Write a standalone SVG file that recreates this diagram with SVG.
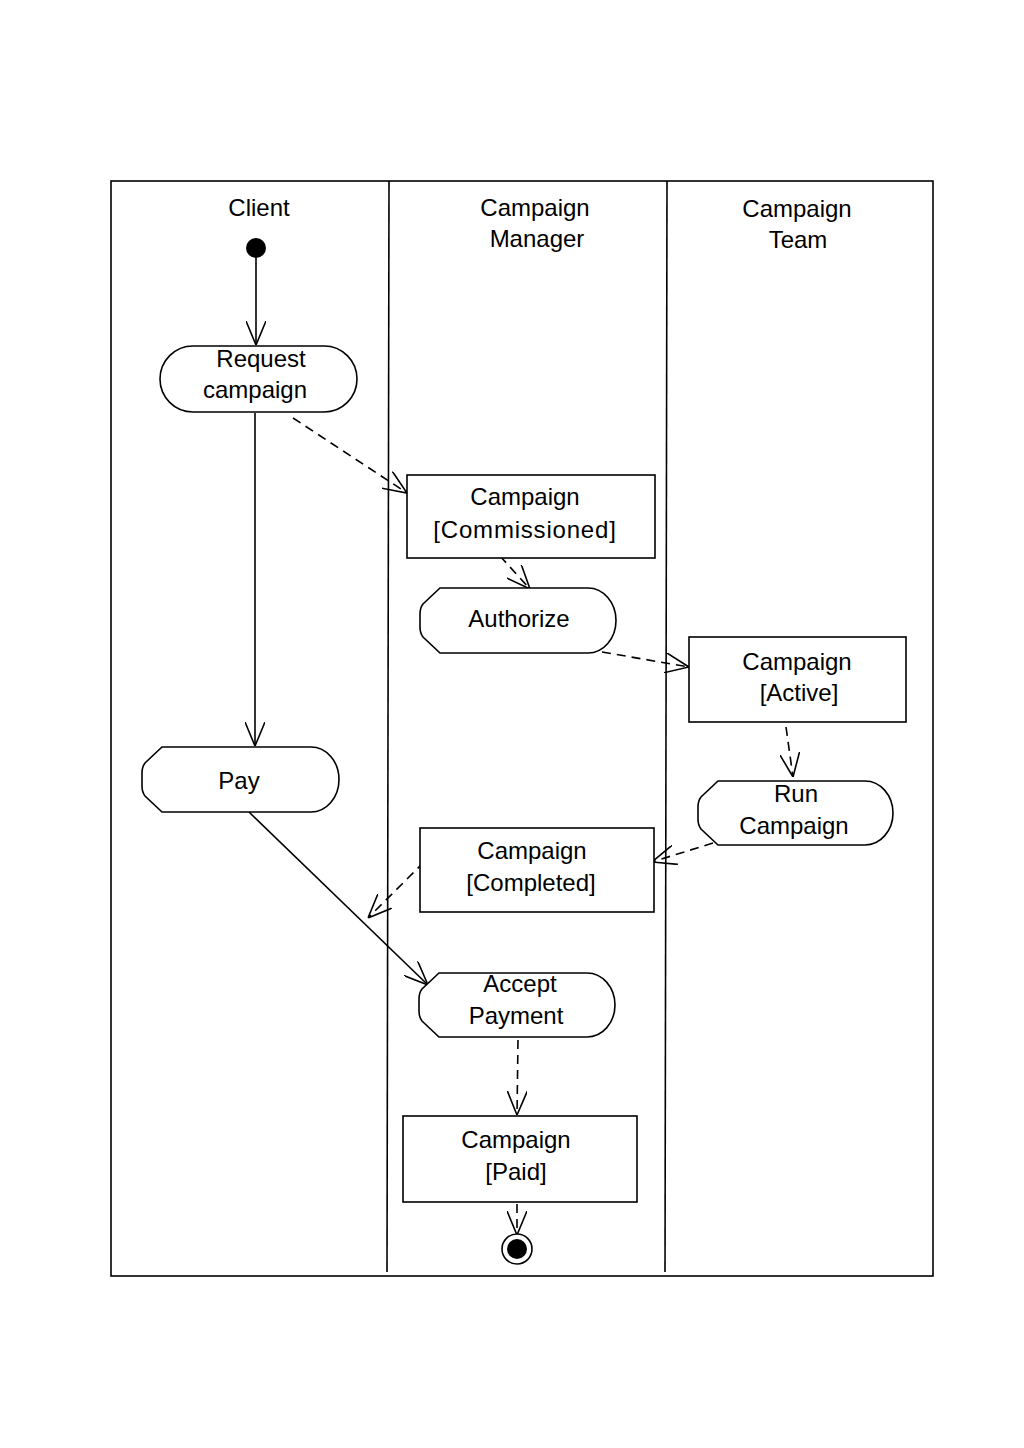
<svg xmlns="http://www.w3.org/2000/svg" width="1024" height="1448" viewBox="0 0 1024 1448">
<style>
.frame{fill:none;stroke:#000;stroke-width:1.6}
.node{fill:#fff;stroke:#000;stroke-width:1.6}
.t{font-family:"Liberation Sans",Arial,sans-serif;font-size:24px;fill:#000;text-anchor:middle}
.solid{fill:none;stroke:#000;stroke-width:1.6}
.dash{fill:none;stroke:#000;stroke-width:1.6;stroke-dasharray:9 6}
</style>
<defs>
<marker id="open" viewBox="0 0 24 20" refX="24" refY="10" markerWidth="24" markerHeight="20" markerUnits="userSpaceOnUse" orient="auto">
<path d="M0,0 L24,10 L0,20" fill="none" stroke="#000" stroke-width="1.6"/>
</marker>
</defs>
<rect width="1024" height="1448" fill="#fff"/>
<g id="lanes">
<rect class="frame" x="111" y="181" width="822" height="1095"/>
<line class="frame" x1="389" y1="181" x2="387" y2="1272"/>
<line class="frame" x1="667" y1="181" x2="665" y2="1272"/>
<text class="t" x="259" y="216">Client</text>
<text class="t" x="535" y="216">Campaign</text>
<text class="t" x="537" y="247">Manager</text>
<text class="t" x="797" y="217">Campaign</text>
<text class="t" x="798" y="248">Team</text>
</g>
<g id="connectors">
<line class="solid" x1="256" y1="256" x2="256" y2="345" marker-end="url(#open)"/>
<line class="solid" x1="255" y1="413" x2="255" y2="746" marker-end="url(#open)"/>
<line class="dash" x1="293" y1="418" x2="407" y2="493" marker-end="url(#open)"/>
<line class="dash" x1="500" y1="556" x2="530" y2="589" marker-end="url(#open)"/>
<line class="dash" x1="602" y1="652" x2="689" y2="667" marker-end="url(#open)"/>
<line class="dash" x1="786" y1="727" x2="793" y2="777" marker-end="url(#open)"/>
<line class="dash" x1="713" y1="843" x2="652" y2="862" marker-end="url(#open)"/>
<line class="dash" x1="424" y1="862" x2="368" y2="918" marker-end="url(#open)"/>
<line class="solid" x1="249" y1="812" x2="428" y2="985" marker-end="url(#open)"/>
<line class="dash" x1="518" y1="1040" x2="517" y2="1115" marker-end="url(#open)"/>
<line class="dash" x1="517" y1="1204" x2="517" y2="1235" marker-end="url(#open)"/>
</g>
<g id="start">
<circle cx="256" cy="248" r="10" fill="#000"/>
</g>
<g id="request-campaign">
<rect class="node" x="160" y="346" width="197" height="66" rx="33" ry="33"/>
<text class="t" x="261" y="367">Request</text>
<text class="t" x="255" y="398">campaign</text>
</g>
<g id="campaign-commissioned">
<rect class="node" x="407" y="475" width="248" height="83"/>
<text class="t" x="525" y="505">Campaign</text>
<text class="t" x="525" y="538" letter-spacing="0.8">[Commissioned]</text>
</g>
<g id="authorize">
<path class="node" d="M440,588 L588,588 A28 32.5 0 0 1 588,653 L440,653 L423,637 Q420,633 420,627 L420,614 Q420,608 423,604 Z"/>
<text class="t" x="519" y="627">Authorize</text>
</g>
<g id="campaign-active">
<rect class="node" x="689" y="637" width="217" height="85"/>
<text class="t" x="797" y="670">Campaign</text>
<text class="t" x="799" y="701">[Active]</text>
</g>
<g id="run-campaign">
<path class="node" d="M718,781 L865,781 A28 32 0 0 1 865,845 L718,845 L701,829 Q698,825 698,819 L698,807 Q698,801 701,797 Z"/>
<text class="t" x="796" y="802">Run</text>
<text class="t" x="794" y="834">Campaign</text>
</g>
<g id="pay">
<path class="node" d="M162,747 L311,747 A28 32.5 0 0 1 311,812 L162,812 L145,796 Q142,792 142,786 L142,773 Q142,767 145,763 Z"/>
<text class="t" x="239" y="789">Pay</text>
</g>
<g id="campaign-completed">
<rect class="node" x="420" y="828" width="234" height="84"/>
<text class="t" x="532" y="859">Campaign</text>
<text class="t" x="531" y="891">[Completed]</text>
</g>
<g id="accept-payment">
<path class="node" d="M439,973 L587,973 A28 32 0 0 1 587,1037 L439,1037 L422,1021 Q419,1017 419,1011 L419,999 Q419,993 422,989 Z"/>
<text class="t" x="520" y="992">Accept</text>
<text class="t" x="516" y="1024">Payment</text>
</g>
<g id="campaign-paid">
<rect class="node" x="403" y="1116" width="234" height="86"/>
<text class="t" x="516" y="1148">Campaign</text>
<text class="t" x="516" y="1180">[Paid]</text>
</g>
<g id="end">
<circle cx="517" cy="1249" r="15" fill="#fff" stroke="#000" stroke-width="1.6"/>
<circle cx="517" cy="1249" r="10" fill="#000"/>
</g>
</svg>
